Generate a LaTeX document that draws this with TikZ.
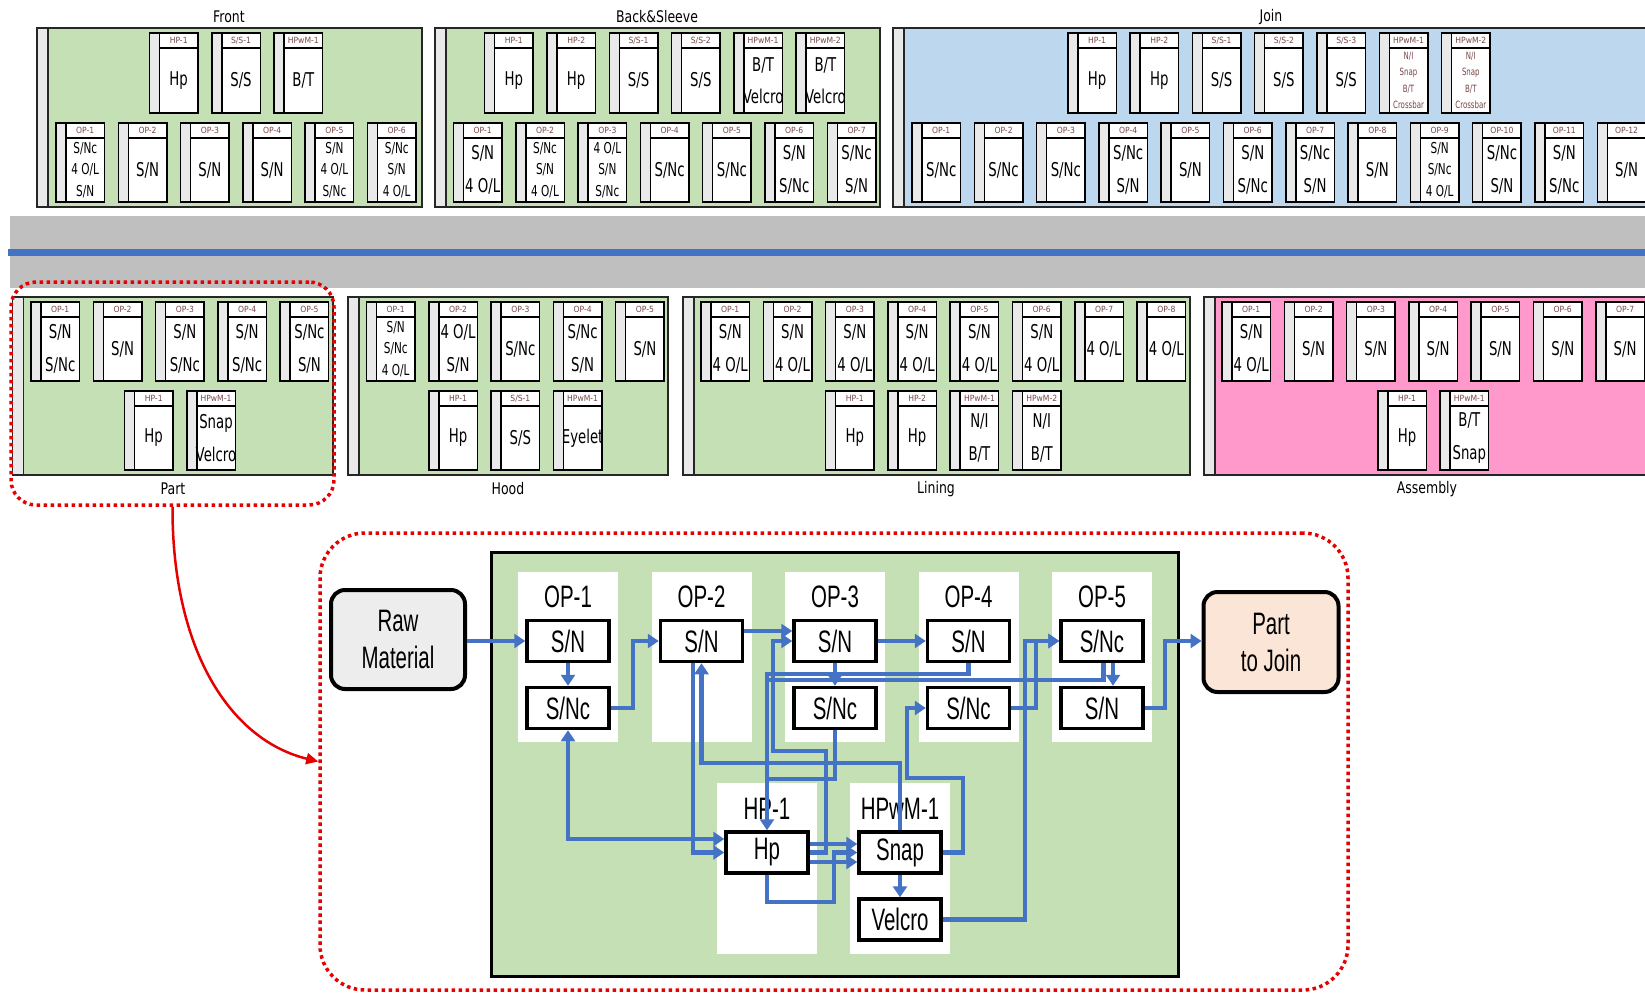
\documentclass[tikz,border=0pt]{standalone}
\usepackage{fontspec}
\usetikzlibrary{arrows.meta,calc}
\newfontfamily\topf[FakeStretch=0.7]{DejaVu Sans}
\newfontfamily\hdrf[FakeStretch=0.9]{DejaVu Sans}
\newfontfamily\titf[FakeStretch=0.78]{DejaVu Sans}
\newfontfamily\botf[FakeStretch=0.66]{Liberation Sans}
\definecolor{grn}{HTML}{C5E0B4}
\definecolor{blu}{HTML}{BDD7EE}
\definecolor{pnk}{HTML}{FF99CC}
\definecolor{band}{HTML}{BFBFBF}
\definecolor{flow}{HTML}{4472C4}
\definecolor{stripc}{HTML}{E9E9E9}
\definecolor{hdrc}{RGB}{120,70,70}
\definecolor{rawc}{HTML}{EDEDED}
\definecolor{ptjc}{HTML}{FBE5D6}
\definecolor{redd}{HTML}{E60000}
\tikzset{
  secbox/.style={draw=black!85, line width=1.3pt},
  cellbox/.style={draw=black, line width=1.5pt, fill=white},
  strip/.style={draw=black, line width=1.5pt, fill=stripc},
  hdr/.style={inner sep=0pt, text=hdrc, font=\hdrf\fontsize{8.5}{9}\selectfont},
  b1/.style={inner sep=0pt, align=center, font=\topf\fontsize{19}{20}\selectfont},
  b2/.style={inner sep=0pt, align=center, font=\topf\fontsize{19}{32.5}\selectfont},
  b3/.style={inner sep=0pt, align=center, font=\topf\fontsize{15}{21.7}\selectfont},
  b4/.style={inner sep=0pt, align=center, text=hdrc, font=\topf\fontsize{10}{16.2}\selectfont},
  sectitle/.style={inner sep=0pt, font=\titf\fontsize{16}{18}\selectfont},
  reddot/.style={draw=redd, line width=3.5pt, dash pattern=on 3.5pt off 3.5pt},
  colw/.style={fill=white, inner sep=0pt, minimum width=100pt, minimum height=170pt},
  lbl/.style={inner sep=0pt, font=\botf\fontsize{31}{37}\selectfont},
  bbox/.style={draw=black, line width=3.5pt, fill=white, inner sep=0pt, minimum width=82pt, minimum height=41pt, font=\botf\fontsize{31}{37}\selectfont},
  endbox/.style={draw=black, line width=4pt, rounded corners=14pt, inner sep=0pt, align=center, font=\botf\fontsize{31}{37}\selectfont},
  flw/.style={draw=flow, line width=4.5pt, -{Triangle[length=11pt,width=14pt]}},
  flwn/.style={draw=flow, line width=4.5pt},
  flwb/.style={draw=flow, line width=4.5pt, {Triangle[length=11pt,width=14pt]}-{Triangle[length=11pt,width=14pt]}},
  redarrow/.style={draw=redd, line width=2.5pt, -{Triangle[length=12pt,width=11pt]}}
}
\newcommand\cell[7]{%
  \draw[cellbox] (#2,#3) rectangle ++(48.5,#4);
  \draw[strip] (#2,#3) rectangle ++(10,#4);
  \draw[cellbox] (#2+10,#3) rectangle ++(38.5,15);
  \node[hdr] (#1h) at (#2+29.25,#3+7.5) {#5};
  \node[#6] (#1) at (#2+29.25,#3+7.5+#4/2) {#7};
}
\begin{document}
\begin{tikzpicture}[x=1pt,y=-1pt]
\useasboundingbox (0,0) rectangle (1645,993);
\clip (0,0) rectangle (1645,993);
\fill[white] (0,0) rectangle (1645,993);
% ---------------- top sections
\draw[secbox, fill=grn] (37,28) rectangle (422,207);
\draw[secbox, fill=stripc] (37,28) rectangle (48,207);
\node[sectitle] (tFront) at (229,17) {Front};
\draw[secbox, fill=grn] (435,28) rectangle (880,207);
\draw[secbox, fill=stripc] (435,28) rectangle (446,207);
\node[sectitle] (tBack) at (657,17) {Back\&Sleeve};
\draw[secbox, fill=blu] (893,28) rectangle (1660,207);
\draw[secbox, fill=stripc] (893,28) rectangle (904,207);
\node[sectitle] (tJoin) at (1271,17) {Join};
% Front
\cell{fu1}{149.45}{33}{80}{HP-1}{b1}{Hp}
\cell{fu2}{149.45+62.3}{33}{80}{S/S-1}{b1}{S/S}
\cell{fu3}{149.45+2*62.3}{33}{80}{HPwM-1}{b1}{B/T}
\cell{fl1}{56}{123}{79}{OP-1}{b3}{S/Nc\\4 O/L\\S/N}
\cell{fl2}{56+62.3}{123}{79}{OP-2}{b1}{S/N}
\cell{fl3}{56+2*62.3}{123}{79}{OP-3}{b1}{S/N}
\cell{fl4}{56+3*62.3}{123}{79}{OP-4}{b1}{S/N}
\cell{fl5}{56+4*62.3}{123}{79}{OP-5}{b3}{S/N\\4 O/L\\S/Nc}
\cell{fl6}{56+5*62.3}{123}{79}{OP-6}{b3}{S/Nc\\S/N\\4 O/L}
% Back&Sleeve
\cell{bu1}{484.65}{33}{80}{HP-1}{b1}{Hp}
\cell{bu2}{484.65+62.3}{33}{80}{HP-2}{b1}{Hp}
\cell{bu3}{484.65+2*62.3}{33}{80}{S/S-1}{b1}{S/S}
\cell{bu4}{484.65+3*62.3}{33}{80}{S/S-2}{b1}{S/S}
\cell{bu5}{484.65+4*62.3}{33}{80}{HPwM-1}{b2}{B/T\\Velcro}
\cell{bu6}{484.65+5*62.3}{33}{80}{HPwM-2}{b2}{B/T\\Velcro}
\cell{bl1}{453.5}{123}{79}{OP-1}{b2}{S/N\\4 O/L}
\cell{bl2}{453.5+62.3}{123}{79}{OP-2}{b3}{S/Nc\\S/N\\4 O/L}
\cell{bl3}{453.5+2*62.3}{123}{79}{OP-3}{b3}{4 O/L\\S/N\\S/Nc}
\cell{bl4}{453.5+3*62.3}{123}{79}{OP-4}{b1}{S/Nc}
\cell{bl5}{453.5+4*62.3}{123}{79}{OP-5}{b1}{S/Nc}
\cell{bl6}{453.5+5*62.3}{123}{79}{OP-6}{b2}{S/N\\S/Nc}
\cell{bl7}{453.5+6*62.3}{123}{79}{OP-7}{b2}{S/Nc\\S/N}
% Join
\cell{ju1}{1067.75}{33}{80}{HP-1}{b1}{Hp}
\cell{ju2}{1067.75+62.3}{33}{80}{HP-2}{b1}{Hp}
\cell{ju3}{1067.75+2*62.3}{33}{80}{S/S-1}{b1}{S/S}
\cell{ju4}{1067.75+3*62.3}{33}{80}{S/S-2}{b1}{S/S}
\cell{ju5}{1067.75+4*62.3}{33}{80}{S/S-3}{b1}{S/S}
\cell{ju6}{1067.75+5*62.3}{33}{80}{HPwM-1}{b4}{N/I\\Snap\\B/T\\Crossbar}
\cell{ju7}{1067.75+6*62.3}{33}{80}{HPwM-2}{b4}{N/I\\Snap\\B/T\\Crossbar}
\cell{jl1}{912}{123}{79}{OP-1}{b1}{S/Nc}
\cell{jl2}{912+62.3}{123}{79}{OP-2}{b1}{S/Nc}
\cell{jl3}{912+2*62.3}{123}{79}{OP-3}{b1}{S/Nc}
\cell{jl4}{912+3*62.3}{123}{79}{OP-4}{b2}{S/Nc\\S/N}
\cell{jl5}{912+4*62.3}{123}{79}{OP-5}{b1}{S/N}
\cell{jl6}{912+5*62.3}{123}{79}{OP-6}{b2}{S/N\\S/Nc}
\cell{jl7}{912+6*62.3}{123}{79}{OP-7}{b2}{S/Nc\\S/N}
\cell{jl8}{912+7*62.3}{123}{79}{OP-8}{b1}{S/N}
\cell{jl9}{912+8*62.3}{123}{79}{OP-9}{b3}{S/N\\S/Nc\\4 O/L}
\cell{jl10}{912+9*62.3}{123}{79}{OP-10}{b2}{S/Nc\\S/N}
\cell{jl11}{912+10*62.3}{123}{79}{OP-11}{b2}{S/N\\S/Nc}
\cell{jl12}{912+11*62.3}{123}{79}{OP-12}{b1}{S/N}
% ---------------- band
\fill[band] (10,216) rectangle (1660,288);
\draw[flow, line width=7pt] (8,252) -- (1660,252);
% ---------------- bottom sections
\draw[secbox, fill=grn] (12.5,297) rectangle (333,475);
\draw[secbox, fill=stripc] (12.5,297) rectangle (23.5,475);
\node[sectitle] (tPart) at (173,489) {Part};
\draw[secbox, fill=grn] (348,297) rectangle (668,475);
\draw[secbox, fill=stripc] (348,297) rectangle (359,475);
\node[sectitle] (tHood) at (508,489) {Hood};
\draw[secbox, fill=grn] (683,297) rectangle (1190,475);
\draw[secbox, fill=stripc] (683,297) rectangle (694,475);
\node[sectitle] (tLining) at (936,489) {Lining};
\draw[secbox, fill=pnk] (1204,297) rectangle (1660,475);
\draw[secbox, fill=stripc] (1204,297) rectangle (1215,475);
\node[sectitle] (tAsm) at (1427,489) {Assembly};
% Part
\cell{pl1}{31}{302}{79}{OP-1}{b2}{S/N\\S/Nc}
\cell{pl2}{31+62.3}{302}{79}{OP-2}{b1}{S/N}
\cell{pl3}{31+2*62.3}{302}{79}{OP-3}{b2}{S/N\\S/Nc}
\cell{pl4}{31+3*62.3}{302}{79}{OP-4}{b2}{S/N\\S/Nc}
\cell{pl5}{31+4*62.3}{302}{79}{OP-5}{b2}{S/Nc\\S/N}
\cell{pu1}{124.45}{391}{79}{HP-1}{b1}{Hp}
\cell{pu2}{124.45+62.3}{391}{79}{HPwM-1}{b2}{Snap\\Velcro}
% Hood
\cell{hl1}{366.5}{302}{79}{OP-1}{b3}{S/N\\S/Nc\\4 O/L}
\cell{hl2}{366.5+62.3}{302}{79}{OP-2}{b2}{4 O/L\\S/N}
\cell{hl3}{366.5+2*62.3}{302}{79}{OP-3}{b1}{S/Nc}
\cell{hl4}{366.5+3*62.3}{302}{79}{OP-4}{b2}{S/Nc\\S/N}
\cell{hl5}{366.5+4*62.3}{302}{79}{OP-5}{b1}{S/N}
\cell{hu1}{428.8}{391}{79}{HP-1}{b1}{Hp}
\cell{hu2}{428.8+62.3}{391}{79}{S/S-1}{b1}{S/S}
\cell{hu3}{428.8+2*62.3}{391}{79}{HPwM-1}{b1}{Eyelet}
% Lining
\cell{ll1}{701}{302}{79}{OP-1}{b2}{S/N\\4 O/L}
\cell{ll2}{701+62.3}{302}{79}{OP-2}{b2}{S/N\\4 O/L}
\cell{ll3}{701+2*62.3}{302}{79}{OP-3}{b2}{S/N\\4 O/L}
\cell{ll4}{701+3*62.3}{302}{79}{OP-4}{b2}{S/N\\4 O/L}
\cell{ll5}{701+4*62.3}{302}{79}{OP-5}{b2}{S/N\\4 O/L}
\cell{ll6}{701+5*62.3}{302}{79}{OP-6}{b2}{S/N\\4 O/L}
\cell{ll7}{701+6*62.3}{302}{79}{OP-7}{b1}{4 O/L}
\cell{ll8}{701+7*62.3}{302}{79}{OP-8}{b1}{4 O/L}
\cell{lu1}{825.6}{391}{79}{HP-1}{b1}{Hp}
\cell{lu2}{825.6+62.3}{391}{79}{HP-2}{b1}{Hp}
\cell{lu3}{825.6+2*62.3}{391}{79}{HPwM-1}{b2}{N/I\\B/T}
\cell{lu4}{825.6+3*62.3}{391}{79}{HPwM-2}{b2}{N/I\\B/T}
% Assembly
\cell{al1}{1222}{302}{79}{OP-1}{b2}{S/N\\4 O/L}
\cell{al2}{1222+62.3}{302}{79}{OP-2}{b1}{S/N}
\cell{al3}{1222+2*62.3}{302}{79}{OP-3}{b1}{S/N}
\cell{al4}{1222+3*62.3}{302}{79}{OP-4}{b1}{S/N}
\cell{al5}{1222+4*62.3}{302}{79}{OP-5}{b1}{S/N}
\cell{al6}{1222+5*62.3}{302}{79}{OP-6}{b1}{S/N}
\cell{al7}{1222+6*62.3}{302}{79}{OP-7}{b1}{S/N}
\cell{au1}{1377.75}{391}{79}{HP-1}{b1}{Hp}
\cell{au2}{1377.75+62.3}{391}{79}{HPwM-1}{b2}{B/T\\Snap}
% ---------------- dotted frames
\node[reddot, rounded corners=25pt, minimum width=323pt, minimum height=223pt, inner sep=0pt] (partdot) at (172.5,393.5) {};
\node[reddot, rounded corners=45pt, minimum width=1028pt, minimum height=457pt, inner sep=0pt] (bigdot) at (834,761.5) {};
\draw[redarrow] (partdot.south) .. controls (172,650) and (230,740) .. (bigdot.west);
% ---------------- detail
\draw[line width=3pt, fill=grn] (491,552) rectangle (1178,976);
\node[colw] (c1) at (568,657) {};
\node[colw] (c2) at (701.5,657) {};
\node[colw] (c3) at (835,657) {};
\node[colw] (c4) at (968.5,657) {};
\node[colw] (c5) at (1102,657) {};
\node[colw, minimum height=171pt] (c6) at (767,868.5) {};
\node[colw, minimum height=171pt] (c7) at (900,868.5) {};
\node[lbl] (lb1) at (568,597) {OP-1};
\node[lbl] (lb2) at (701.5,597) {OP-2};
\node[lbl] (lb3) at (835,597) {OP-3};
\node[lbl] (lb4) at (968.5,597) {OP-4};
\node[lbl] (lb5) at (1102,597) {OP-5};
\node[lbl] (lb6) at (767,809) {HP-1};
\node[lbl] (lb7) at (900,809) {HPwM-1};
\node[bbox] (o1a) at (568,641) {S/N};
\node[bbox] (o1b) at (568,708) {S/Nc};
\node[bbox] (o2a) at (701.5,641) {S/N};
\node[bbox] (o3a) at (835,641) {S/N};
\node[bbox] (o3b) at (835,708) {S/Nc};
\node[bbox] (o4a) at (968.5,641) {S/N};
\node[bbox] (o4b) at (968.5,708) {S/Nc};
\node[bbox] (o5a) at (1102,641) {S/Nc};
\node[bbox] (o5b) at (1102,708) {S/N};
\node[bbox] (hp) at (767,852.5) {Hp};
\node[bbox] (snap) at (900,852.5) {Snap};
\node[bbox] (velcro) at (900,919.5) {Velcro};
\node[endbox, fill=rawc, minimum width=134pt, minimum height=99pt] (raw) at (398,639.5) {Raw\\Material};
\node[endbox, fill=ptjc, minimum width=135pt, minimum height=100pt] (ptj) at (1271,642) {Part\\to Join};
% connectors
\draw[flw] (raw.east |- o1a.west) -- (o1a.west);
\draw[flw] (o1a.south) -- (o1b.north);
\draw[flw] (o1b.east) -| (633,641) -- (o2a.west);
\draw[flw] ([yshift=10pt]o2a.east) -- ([yshift=10pt]o3a.west);
\draw[flw] (hp.east) -- (826,852.5) -- (826,751) -- (773,751) |- (o3a.west);
\draw[flw] (o3a.east) -- (o4a.west);
\draw[flw] (o3a.south) -- (o3b.north);
\draw[flwn] (o3b.south) -- (835,779) -- (767,779);
\draw[flwn] ([xshift=1.5pt]o5a.south) -- (1103.5,680) -- (767,680);
\draw[flw] (o4a.south) -- (968.5,674) -| (hp.north);
\draw[flw] ([xshift=11pt]o5a.south) -- ([xshift=11pt]o5b.north);
\draw[flw] (o5b.east) -| (1165,641) -- (ptj.west |- o5a.west);
\draw[flw] (velcro.east) -| (1025,641) -- (o5a.west);
\draw[flw] (o4b.east) -| (1036,641) -- (o5a.west);
\draw[flw] (snap.east) -- (963,852.5) -- (963,778) -- (907,778) |- (o4b.west);
\draw[flw] (snap.south) -- (velcro.north);
\draw[flw] (snap.north) -- (900,763) -| (o2a.south);
\draw[flw] ([xshift=-8.5pt]o2a.south) |- (hp.west);
\draw[flwb] (o1b.south) |- ([yshift=13.5pt]hp.west);
\draw[flw] ([yshift=8.5pt]hp.east) -- ([yshift=8.5pt]snap.west);
\draw[flw] ([yshift=-9.5pt]hp.east) -- ([yshift=-9.5pt]snap.west);
\draw[flw] (hp.south) -- (767,902) -- (834,902) |- (snap.west);
\end{tikzpicture}
\end{document}
